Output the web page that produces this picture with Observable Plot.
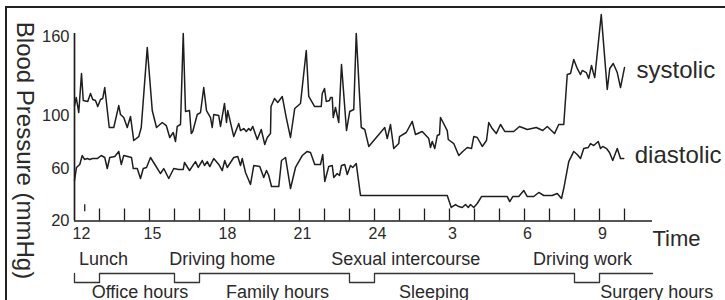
<!DOCTYPE html>
<html><head><meta charset="utf-8">
<script src="https://cdn.jsdelivr.net/npm/d3@7"></script>
<script src="https://cdn.jsdelivr.net/npm/@observablehq/plot@0.6"></script>
<style>
html,body{margin:0;padding:0;background:#fff;overflow:hidden;}
#wrap{position:relative;width:725px;height:300px;overflow:hidden;font-family:"Liberation Sans",Arial,sans-serif;}
#chart{position:absolute;left:0;top:0;}
#strip{position:absolute;left:0;top:250px;}
#chart svg,#strip svg{display:block;}
#frame{position:absolute;left:5px;top:6px;width:900px;height:500px;border-left:2px solid #222;border-top:2px solid #222;}
</style></head>
<body><div id="wrap"><div id="chart"></div><div id="strip"></div><div id="frame"></div></div>
<script>
// time in hours from 12:00 (noon) of day 1; 24 = midnight, 33 = 9 am next day
const sysTime = [
12.00,12.07,12.17,12.28,12.35,12.53,12.64,12.73,12.84,12.93,
13.04,13.13,13.21,13.39,13.57,13.77,13.84,13.97,14.11,14.24,
14.37,14.57,14.67,14.91,15.11,15.28,15.51,15.67,15.81,15.95,
16.04,16.11,16.24,16.35,16.44,16.60,16.67,16.73,16.91,17.04,
17.17,17.28,17.44,17.51,17.57,17.77,17.84,18.00,18.08,18.13,
18.37,18.57,18.64,18.77,18.87,18.97,19.04,19.13,19.31,19.47,
19.61,19.71,19.84,19.86,20.00,20.13,20.31,20.47,20.64,20.81,
21.04,21.27,21.37,21.60,21.87,21.91,22.00,22.07,22.20,22.24,
22.31,22.35,22.44,22.57,22.68,22.88,23.01,23.17,23.27,23.47,
23.61,23.77,24.41,24.51,24.64,24.77,24.97,25.00,25.27,25.51,
25.64,25.91,26.17,26.24,26.31,26.41,26.51,26.60,26.64,26.91,
26.95,27.17,27.37,27.53,27.71,27.88,27.97,28.11,28.31,28.48,
28.57,28.71,28.87,29.04,29.21,29.57,29.80,30.11,30.47,30.73,
30.91,31.20,31.37,31.57,31.71,31.84,31.97,32.11,32.24,32.31,
32.47,32.57,32.68,32.75,32.81,33.07,33.31,33.41,33.55,33.71,
33.84,34.00];
const sysValue = [
107.8,113.9,102.5,132.2,111.6,110.9,117.0,112.4,111.6,107.1,
112.4,113.2,121.5,91.1,91.1,107.8,101.0,98.7,91.1,99.5,
81.2,84.2,91.1,151.9,104.0,91.1,94.9,92.6,83.5,87.3,
80.5,91.9,93.4,162.6,103.3,104.0,86.5,88.1,101.0,102.5,
121.5,104.0,98.7,91.1,101.0,100.2,91.9,109.4,94.9,104.0,
84.2,94.1,88.8,90.3,88.1,90.3,88.8,91.9,82.0,89.6,
78.2,83.5,86.5,107.1,113.2,110.1,114.7,98.7,83.5,105.6,
109.4,149.7,114.7,107.1,107.1,117.0,120.8,110.9,111.6,113.9,
113.9,98.7,106.3,94.9,139.0,88.8,103.3,104.8,162.6,91.1,
89.6,76.7,91.1,82.7,93.4,75.1,78.9,84.2,87.3,95.7,
85.8,88.1,82.7,75.9,80.5,75.1,85.0,85.8,98.7,88.8,
82.0,78.9,69.8,72.9,75.9,75.1,84.2,83.5,76.7,81.2,
94.9,90.3,86.5,93.4,88.1,88.1,91.9,89.6,91.1,88.8,
91.9,86.5,93.4,93.4,131.4,132.2,142.8,136.0,131.4,134.5,
132.9,128.4,138.3,132.9,129.1,177.0,120.0,136.0,139.8,132.9,
121.5,136.7];
const diaTime = [
12.00,12.08,12.21,12.31,12.40,12.51,12.61,12.72,12.91,13.07,
13.21,13.31,13.41,13.61,13.77,13.87,13.97,14.28,14.35,14.51,
14.64,14.75,14.88,15.04,15.24,15.44,15.57,15.77,15.97,16.17,
16.35,16.40,16.60,16.84,16.95,17.11,17.20,17.31,17.41,17.57,
17.67,17.77,17.91,18.01,18.11,18.37,18.53,18.64,18.71,18.84,
19.04,19.17,19.41,19.57,19.68,19.77,19.88,20.17,20.28,20.44,
20.64,20.84,21.11,21.31,21.44,21.61,21.84,21.93,22.01,22.17,
22.31,22.37,22.51,22.60,22.68,22.81,22.91,23.04,23.13,23.27,
23.44,26.91,27.07,27.24,27.37,27.51,27.64,27.75,27.84,27.97,
28.11,28.28,29.31,29.41,29.53,29.77,29.97,30.11,30.37,30.57,
30.77,31.11,31.31,31.48,31.57,31.77,31.97,32.11,32.24,32.37,
32.55,32.64,32.77,32.95,33.04,33.13,33.28,33.40,33.53,33.71,
33.84,33.97];
const diaValue = [
50.8,60.7,63.0,69.8,66.8,67.5,66.8,67.5,67.5,69.8,
68.3,59.9,68.3,69.1,72.9,63.0,69.8,68.3,59.9,59.9,
52.3,59.9,60.7,68.3,62.2,56.1,59.9,52.3,59.9,59.2,
59.2,64.5,58.4,65.2,60.7,66.0,62.2,65.2,61.4,67.5,
65.2,63.0,58.4,66.0,60.7,68.3,69.1,62.2,67.5,56.9,
47.8,62.2,61.4,53.1,58.4,54.6,46.2,46.2,66.0,68.3,
44.7,60.7,69.8,72.9,72.1,63.0,63.0,70.6,50.0,61.4,
62.2,53.1,56.1,54.6,62.2,63.0,55.4,62.2,60.7,63.7,
39.4,39.4,30.3,32.5,31.0,30.3,32.5,30.3,32.5,30.3,
33.3,38.6,38.6,34.8,38.6,38.6,43.2,38.6,38.6,41.7,
39.4,39.4,40.9,37.1,44.7,65.2,72.9,70.6,67.5,75.1,
75.9,78.9,77.4,80.5,75.1,76.7,75.1,72.1,66.0,75.1,
67.5,67.5];
const seriesNames = ["systolic", "diastolic"];
const strayTime = [12.41], strayLow = [27.0], strayHigh = [32.3];

const yTicks = [20, 60, 100, 160];
const xTickHours = [13,14,15,16,17,18,19,20,21,22,23,24,25,26,27,28,29,30,31,32,33,34];
const xLabelHours = [12, 15, 18, 21, 24, 27, 30, 33];
const xLabelText = ["12", "15", "18", "21", "24", "3", "6", "9"];
const xMin = 12, xMax = 35.12, yMin = 20, yMax = 162.6;

// daily schedule: level 0 = event (upper label), 1 = state (lower label)
const stepTime  = [12, 12, 13, 16, 17, 23, 24, 32, 33, 35.12];
const stepLevel = [1, 0, 1, 0, 1, 0, 1, 0, 1, 1];
const eventNames = ["Lunch", "Driving home", "Sexual intercourse", "Driving work"];
const eventLabelAt = [13.16, 17.91, 25.25, 32.32];
const stateNames = ["Office hours", "Family hours", "Sleeping", "Surgery hours"];
const stateLabelAt = [14.62, 20.12, 26.38, 35.29];

const sys = sysTime.map((t, i) => ({t, v: sysValue[i]}));
const dia = diaTime.map((t, i) => ({t, v: diaValue[i]}));
const stray = strayTime.map((t, i) => ({t, lo: strayLow[i], hi: strayHigh[i]}));
const xLabels = xLabelHours.map((h, i) => ({h, s: xLabelText[i]}));
const ends = [
  {...sys[sys.length - 1], name: seriesNames[0]},
  {...dia[dia.length - 1], name: seriesNames[1]}
];
const steps = stepTime.map((t, i) => ({t, level: stepLevel[i]}));
const events = eventNames.map((name, i) => ({name, at: eventLabelAt[i]}));
const states = stateNames.map((name, i) => ({name, at: stateLabelAt[i]}));

const font = "'Liberation Sans', Arial, Helvetica, sans-serif";
const ink = "#1e1e1e", txt = "#2a2a2a";

const chart = Plot.plot({
  width: 725, height: 250,
  marginLeft: 74, marginRight: 73, marginTop: 33, marginBottom: 29.5,
  x: {domain: [xMin, xMax], axis: null},
  y: {domain: [yMin, yMax], axis: null},
  style: {background: "transparent", fontFamily: font, color: txt, overflow: "visible"},
  marks: [
    Plot.ruleX(xTickHours, {x: d => d, insetTop: 175.5, stroke: ink, strokeWidth: 1.3}),
    Plot.ruleY([yMin], {stroke: ink, strokeWidth: 1.7}),
    Plot.ruleX([xMin], {y1: yMin, y2: yMax, stroke: ink, strokeWidth: 1.7}),
    Plot.ruleX(stray, {x: "t", y1: "lo", y2: "hi", stroke: ink, strokeWidth: 1.3}),
    Plot.line(sys, {x: "t", y: "v", stroke: ink, strokeWidth: 1.5}),
    Plot.line(dia, {x: "t", y: "v", stroke: ink, strokeWidth: 1.5}),
    Plot.text(yTicks, {y: d => d, text: d => String(d), frameAnchor: "left", textAnchor: "end", dx: -5, fontSize: 16.5, fill: txt}),
    Plot.text(xLabels.slice(0, 1), {x: "h", text: "s", frameAnchor: "bottom", lineAnchor: "bottom", dy: 18, dx: 7, fontSize: 16, fill: txt}),
    Plot.text(xLabels.slice(1), {x: "h", text: "s", frameAnchor: "bottom", lineAnchor: "bottom", dy: 18, dx: 3, fontSize: 16, fill: txt}),
    Plot.text(["Time"], {frameAnchor: "bottom-right", textAnchor: "start", lineAnchor: "bottom", dy: 24.5, fontSize: 22, fill: txt}),
    Plot.text(ends.slice(0, 1), {x: "t", y: "v", text: "name", textAnchor: "start", lineAnchor: "bottom", dx: 12, dy: 10, fontSize: 24, fill: txt}),
    Plot.text(ends.slice(1), {x: "t", y: "v", text: "name", textAnchor: "start", lineAnchor: "bottom", dx: 11, dy: 4, fontSize: 24, fill: txt}),
    Plot.text(["Blood Pressure (mmHg)"], {frameAnchor: "left", textAnchor: "middle", lineAnchor: "middle", rotate: 90, dx: -50, dy: 23.25, fontSize: 24, fill: txt})
  ]
});
document.getElementById("chart").appendChild(chart);

const strip = Plot.plot({
  width: 725, height: 50,
  marginLeft: 74, marginRight: 73, marginTop: 0, marginBottom: 0,
  x: {domain: [xMin, xMax], axis: null},
  y: {domain: [0, 1], range: [32, 23], axis: null},
  style: {background: "transparent", fontFamily: font, color: txt, overflow: "visible"},
  marks: [
    Plot.line(steps, {x: "t", y: "level", curve: "step-after", stroke: "#333", strokeWidth: 1.3}),
    Plot.text(events, {x: "at", text: "name", frameAnchor: "top", lineAnchor: "bottom", dy: 14, fontSize: 18, fill: txt}),
    Plot.text(states, {x: "at", text: "name", frameAnchor: "top", lineAnchor: "bottom", dy: 47, fontSize: 18, fill: txt})
  ]
});
document.getElementById("strip").appendChild(strip);
</script>
</body></html>
